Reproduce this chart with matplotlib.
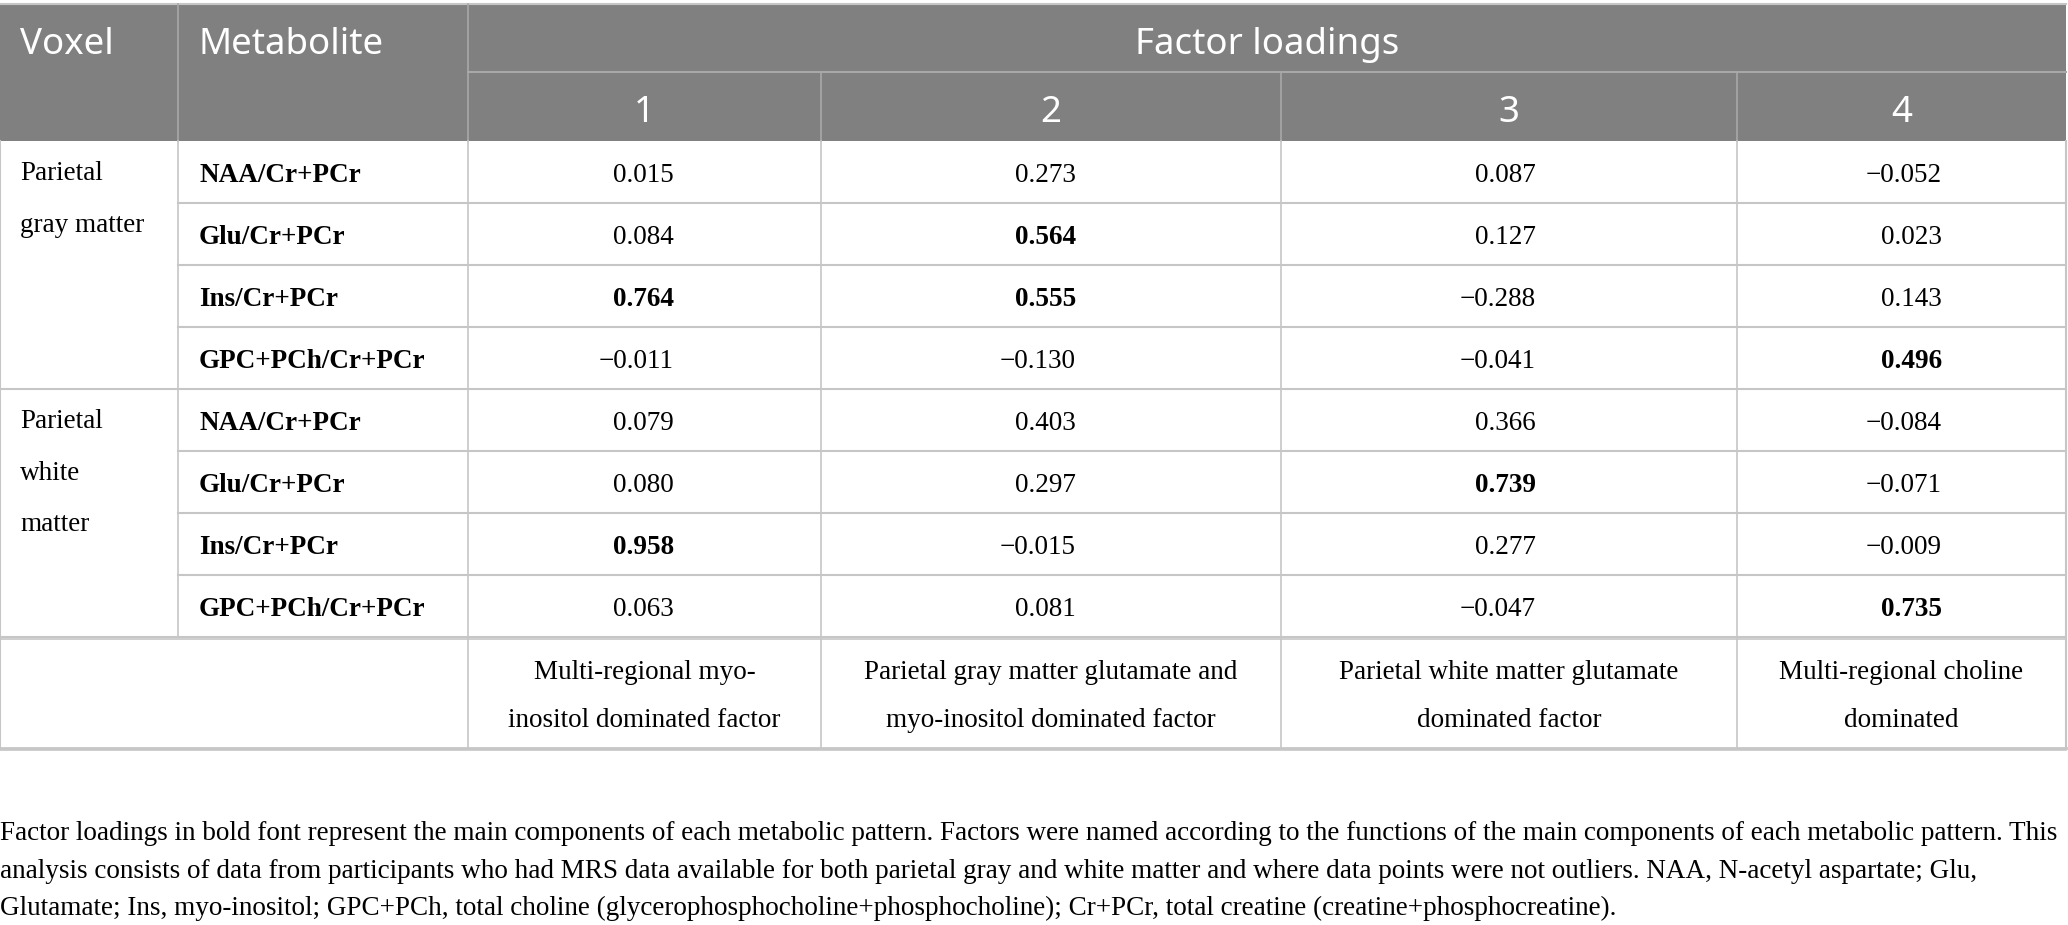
import matplotlib.pyplot as plt
from matplotlib.patches import Rectangle

# table content
voxels = ["Parietal\ngray matter", "Parietal\nwhite\nmatter"]
metabolites = ["NAA/Cr+PCr", "Glu/Cr+PCr", "Ins/Cr+PCr", "GPC+PCh/Cr+PCr"]
factor_labels = ["1", "2", "3", "4"]
loadings = [
    [0.015, 0.273, 0.087, -0.052],
    [0.084, 0.564, 0.127, 0.023],
    [0.764, 0.555, -0.288, 0.143],
    [-0.011, -0.130, -0.041, 0.496],
    [0.079, 0.403, 0.366, -0.084],
    [0.080, 0.297, 0.739, -0.071],
    [0.958, -0.015, 0.277, -0.009],
    [0.063, 0.081, -0.047, 0.735],
]
bold_cells = [(1, 1), (2, 0), (2, 1), (3, 3), (5, 2), (6, 0), (7, 3)]
factor_names = [
    "Multi-regional myo-\ninositol dominated factor",
    "Parietal gray matter glutamate and\nmyo-inositol dominated factor",
    "Parietal white matter glutamate\ndominated factor",
    "Multi-regional choline\ndominated",
]
footnote = [
    "Factor loadings in bold font represent the main components of each metabolic pattern. "
    "Factors were named according to the functions of the main components of each metabolic pattern. This",
    "analysis consists of data from participants who had MRS data available for both parietal gray "
    "and white matter and where data points were not outliers. NAA, N-acetyl aspartate; Glu,",
    "Glutamate; Ins, myo-inositol; GPC+PCh, total choline (glycerophosphocholine+phosphocholine); "
    "Cr+PCr, total creatine (creatine+phosphocreatine).",
]

# layout (pixels)
W, H = 2068, 925
col_x = [0, 178, 468, 821, 1281, 1737, 2066]
num_right = [674, 1076, 1536, 1942]
top, head_mid, head_bot = 4, 72, 141
row_h = 62
last_bot = 748
HEAD_BG = "#7f807f"
LINE = "#c6c6c6"
SANS = ["Noto Sans", "DejaVu Sans"]
SERIF = ["Liberation Serif", "DejaVu Serif"]
FS_HEAD = 26.4
FS_BODY = 19.5
DY = 4  # baseline nudge for serif body text

fig = plt.figure(figsize=(W / 100, H / 100), dpi=100)
ax = fig.add_axes([0, 0, 1, 1])
ax.set_xlim(0, W)
ax.set_ylim(H, 0)
ax.axis("off")

# header
ax.add_patch(Rectangle((col_x[0], top), col_x[-1] - col_x[0], head_bot - top,
                       facecolor=HEAD_BG, edgecolor="none"))
ax.plot([col_x[0], col_x[-1]], [top, top], color=LINE, lw=1.5)
ax.plot([col_x[2], col_x[-1]], [head_mid, head_mid], color="#a8a8a8", lw=1.5)
for x in col_x[1:3]:
    ax.plot([x, x], [top, head_bot], color="#a8a8a8", lw=1.2)
for x in col_x[3:6]:
    ax.plot([x, x], [head_mid, head_bot], color="#a8a8a8", lw=1.2)

ax.text(20, 45, "Voxel", color="white", fontsize=FS_HEAD, family=SANS, va="center")
ax.text(199, 45, "Metabolite", color="white", fontsize=FS_HEAD, family=SANS, va="center")
ax.text((col_x[2] + col_x[-1]) / 2, 45, "Factor loadings", color="white",
        fontsize=FS_HEAD, family=SANS, va="center", ha="center")
for j, lab in enumerate(factor_labels):
    ax.text((col_x[j + 2] + col_x[j + 3]) / 2, 113, lab, color="white",
            fontsize=FS_HEAD, family=SANS, va="center", ha="center")

# body rows
n_rows = len(loadings)
row_y = [head_bot + i * row_h for i in range(n_rows + 1)]
for i in range(n_rows):
    yc = (row_y[i] + row_y[i + 1]) / 2 + DY
    ax.text(199, yc, metabolites[i % 4], fontsize=FS_BODY, family=SERIF,
            fontweight="bold", va="center")
    for j, v in enumerate(loadings[i]):
        s = f"{v:.3f}".replace("-", "\u2212")
        ax.text(num_right[j], yc, s, fontsize=FS_BODY, family=SERIF, ha="right", va="center",
                fontweight="bold" if (i, j) in bold_cells else "normal")

for g, lab in enumerate(voxels):
    ax.text(20, row_y[g * 4] + 20, lab, fontsize=FS_BODY, family=SERIF, va="top",
            linespacing=2.4)

# horizontal lines
for i in range(1, n_rows + 1):
    if i % 4 == 0:
        ax.plot([col_x[0], col_x[-1]], [row_y[i], row_y[i]], color=LINE, lw=1.5)
    else:
        ax.plot([col_x[1], col_x[-1]], [row_y[i], row_y[i]], color=LINE, lw=1.5)
ax.plot([col_x[0], col_x[-1]], [row_y[-1] + 2, row_y[-1] + 2], color=LINE, lw=1.2)
ax.plot([col_x[0], col_x[-1]], [last_bot, last_bot], color=LINE, lw=2)
ax.plot([col_x[0], col_x[-1]], [last_bot + 2, last_bot + 2], color=LINE, lw=1.2)

# vertical lines
for x in [col_x[0], col_x[-1]]:
    ax.plot([x, x], [head_bot, last_bot], color=LINE, lw=1.5)
ax.plot([col_x[1], col_x[1]], [head_bot, row_y[-1]], color=LINE, lw=1.2)
for x in col_x[2:6]:
    ax.plot([x, x], [head_bot, last_bot], color=LINE, lw=1.2)

# factor descriptions
yc = (row_y[-1] + last_bot) / 2 + DY
for j, name in enumerate(factor_names):
    ax.text((col_x[j + 2] + col_x[j + 3]) / 2, yc, name, fontsize=FS_BODY, family=SERIF,
            ha="center", va="center", linespacing=2.2)

# footnote
for k, line in enumerate(footnote):
    ax.text(0, 834 + k * 37, line, fontsize=FS_BODY, family=SERIF, va="center")

fig.savefig("out.png", dpi=100)
